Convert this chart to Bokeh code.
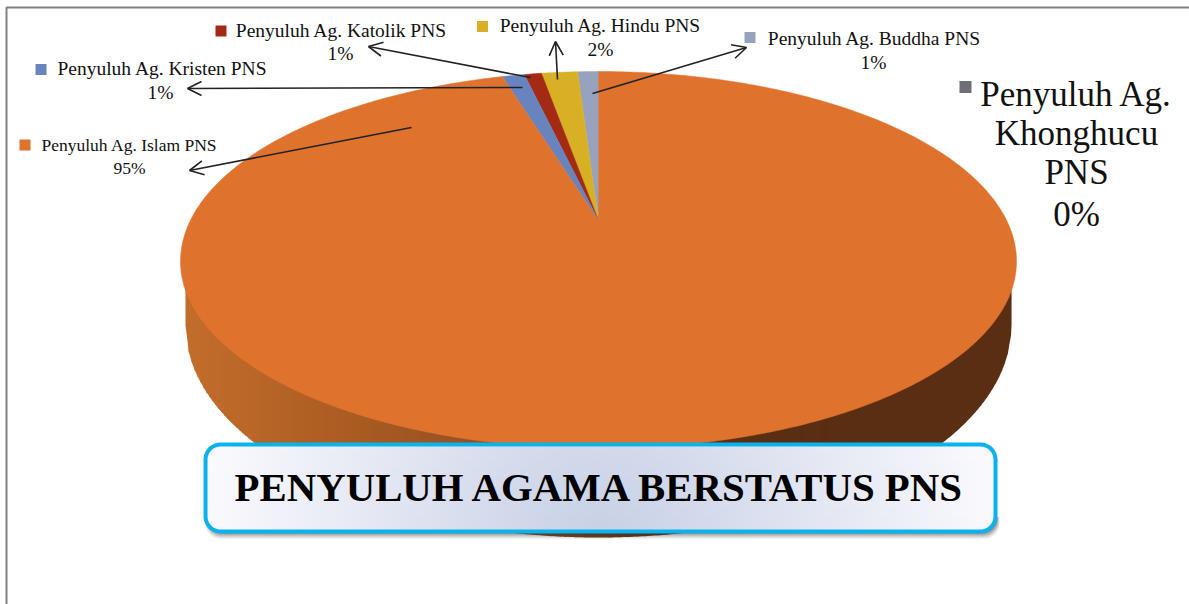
import math
from bokeh.plotting import figure
from bokeh.models import Arrow, OpenHead, ColumnDataSource
from bokeh.core.properties import value
from bokeh.embed import file_html
from bokeh.resources import INLINE

# ---- data ----
categories = ["Penyuluh Ag. Islam PNS", "Penyuluh Ag. Kristen PNS", "Penyuluh Ag. Katolik PNS",
              "Penyuluh Ag. Hindu PNS", "Penyuluh Ag. Buddha PNS", "Penyuluh Ag. Khonghucu PNS"]
drawn_share = [96.30, 0.86, 0.66, 1.38, 0.80, 0.0]   # visible slice sizes
percent_labels = ["95%", "1%", "1%", "2%", "1%", "0%"]
colors = ["#DF732E", "#6884BF", "#A32A13", "#D8B024", "#97A3BE", "#6C6F76"]
title = "PENYULUH AGAMA BERSTATUS PNS"

W, H = 1189, 604
FONT = value("Liberation Serif")
p = figure(width=W, height=H, x_range=(0, W), y_range=(H, 0), toolbar_location=None,
           output_backend="svg", min_border=0, outline_line_color=None, background_fill_color="white")
p.axis.visible = False
p.grid.visible = False

# pie geometry (3-D tilt drawn as ellipses)
CX, CY, A, B_UP, B_DOWN = 598, 261, 418, 190, 187
WALL_A, WALL_CY, WALL_B = 413, 325, 212
AX, AY = 598, 220


def rim(theta):
    c = math.cos(theta)
    return CX + A * math.sin(theta), CY - (B_UP if c > 0 else B_DOWN) * c


def lerp_hex(stops, t):
    for (t0, c0), (t1, c1) in zip(stops, stops[1:]):
        if t <= t1:
            f = (t - t0) / (t1 - t0) if t1 > t0 else 0
            rgb = [int(int(c0[i:i + 2], 16) * (1 - f) + int(c1[i:i + 2], 16) * f) for i in (1, 3, 5)]
            return "#%02x%02x%02x" % tuple(rgb)
    return stops[-1][1]


# side wall as narrow strips with a horizontal gradient
wall_stops = [(180, "#C46E2C"), (370, "#A85A22"), (490, "#8F5226"), (620, "#693A1A"), (740, "#5A2E12"), (1020, "#5A2E12")]


def wall_bottom(x):
    u = (x - CX) / WALL_A
    return WALL_CY + WALL_B * math.sqrt(max(0.0, 1 - u * u))


wx, wy, wc = [], [], []
step = 3
for x0 in range(CX - WALL_A, CX + WALL_A, step):
    x1 = min(x0 + step + 0.6, CX + WALL_A)
    wx.append([x0, x1, x1, x0])
    wy.append([CY, CY, wall_bottom(x1), wall_bottom(x0)])
    wc.append(lerp_hex(wall_stops, x0))
p.patches(wx, wy, fill_color=wc, line_color=None)

# top face slices, going counter-clockwise from 12 o'clock
total = sum(drawn_share)
angle = 0.0
order = [4, 3, 2, 1, 0]
for i in order:
    a0 = angle
    a1 = angle + drawn_share[i] / total * 2 * math.pi
    n = max(3, int((a1 - a0) * 120))
    pts = [rim(-(a0 + (a1 - a0) * k / n)) for k in range(n + 1)]
    xs = [AX] + [q[0] for q in pts]
    ys = [AY] + [q[1] for q in pts]
    p.patch(xs, ys, fill_color=colors[i], line_color=colors[i], line_width=0.5)
    angle = a1

# leader arrows
ar = ColumnDataSource(dict(x0=[411, 522, 530, 557, 592], y0=[127, 87, 77, 79, 93],
                           x1=[189, 187, 368, 555, 746], y1=[170, 88, 46, 41, 47]))
p.add_layout(Arrow(source=ar, x_start="x0", y_start="y0", x_end="x1", y_end="y1",
                   line_color="#222222", line_width=1.6,
                   end=OpenHead(size=14, line_color="#222222", line_width=1.6)))

# data labels
lab_x = [129, 162, 341, 600, 874]
lab_y = [144, 68, 30, 25, 38]
pct_x = [129, 160, 340, 600, 873]
pct_y = [167, 92, 53, 49, 62]
sizes = ["17.5px", "19.5px", "19.5px", "19.5px", "19.5px"]
key_x = [24.5, 40.5, 220.5, 482, 749.5]
key_y = [144.5, 69, 30.5, 26, 37]
for i in range(5):
    p.text([lab_x[i]], [lab_y[i]], text=[categories[i]], text_font=FONT, text_font_size=sizes[i],
           text_align="center", text_baseline="middle", text_color="#111111")
    p.text([pct_x[i]], [pct_y[i]], text=[percent_labels[i]], text_font=FONT, text_font_size=sizes[i],
           text_align="center", text_baseline="middle", text_color="#111111")
    p.scatter([key_x[i]], [key_y[i]], marker="square", size=11, fill_color=colors[i], line_color=None)

# large label for the zero slice
p.scatter([965], [86.5], marker="square", size=12, fill_color=colors[5], line_color=None)
for txt, yy in zip(["Penyuluh Ag.", "Khonghucu", "PNS", percent_labels[5]], [94, 133, 172, 214]):
    p.text([1076], [yy], text=[txt], text_font=FONT, text_font_size="35px", text_align="center",
           text_baseline="middle", text_color="#111111")

# title box
BX0, BX1, BY0, BY1, R = 205, 995, 444, 531, 15


def rounded(x0, x1, y0, y1, r):
    xs, ys = [], []
    for cx, cy, st in [(x1 - r, y0 + r, -90), (x1 - r, y1 - r, 0), (x0 + r, y1 - r, 90), (x0 + r, y0 + r, 180)]:
        for k in range(9):
            t = math.radians(st + k * 90 / 8)
            xs.append(cx + r * math.cos(t))
            ys.append(cy + r * math.sin(t))
    return xs, ys


for k, al in zip(range(8, 0, -1), [0.04, 0.06, 0.08, 0.10, 0.12, 0.14, 0.16, 0.18]):
    sx, sy = rounded(BX0 - k * 0.25 + 2, BX1 + k * 0.4 + 1, BY0 + 6, BY1 + k, R)
    p.patch(sx, sy, fill_color="#333333", fill_alpha=al, line_color=None)

bx, by = rounded(BX0, BX1, BY0, BY1, R)
p.patch(bx, by, fill_color="#F4F5FB", line_color=None)
box_stops = [(0.0, "#C9D1E6"), (0.25, "#D3DAEC"), (0.6, "#E6E9F4"), (1.0, "#FAFAFE")]
cx, cy = (BX0 + BX1) / 2, BY1
gx, gy, gc = [], [], []
cw, ch = 8, 5
for yy in range(BY0 + 2, BY1 - 2, ch):
    for xx in range(BX0 + 2, BX1 - 2, cw):
        inx = min(xx - BX0, BX1 - xx - cw)
        iny = min(yy - BY0, BY1 - yy - ch)
        if inx < R and iny < R and math.hypot(R - inx, R - iny) > R - 1:
            continue
        d = math.hypot((xx + cw / 2 - cx) / 395, (yy + ch / 2 - cy) / 350)
        gx.append([xx, xx + cw + 0.5, xx + cw + 0.5, xx])
        gy.append([yy, yy, yy + ch + 0.5, yy + ch + 0.5])
        gc.append(lerp_hex(box_stops, min(1, d)))
p.patches(gx, gy, fill_color=gc, line_color=None)
p.patch(bx, by, fill_color=None, line_color="#0BB2EC", line_width=4)
p.text([600], [487], text=[title], text_font=FONT, text_font_size="40.8px", text_font_style="bold",
       text_align="center", text_baseline="middle", text_color="#000000")

# picture frame
p.line([6, 6, W], [H, 7, 7], line_color="#808080", line_width=2)

open("out.html", "w").write(file_html(p, INLINE))
